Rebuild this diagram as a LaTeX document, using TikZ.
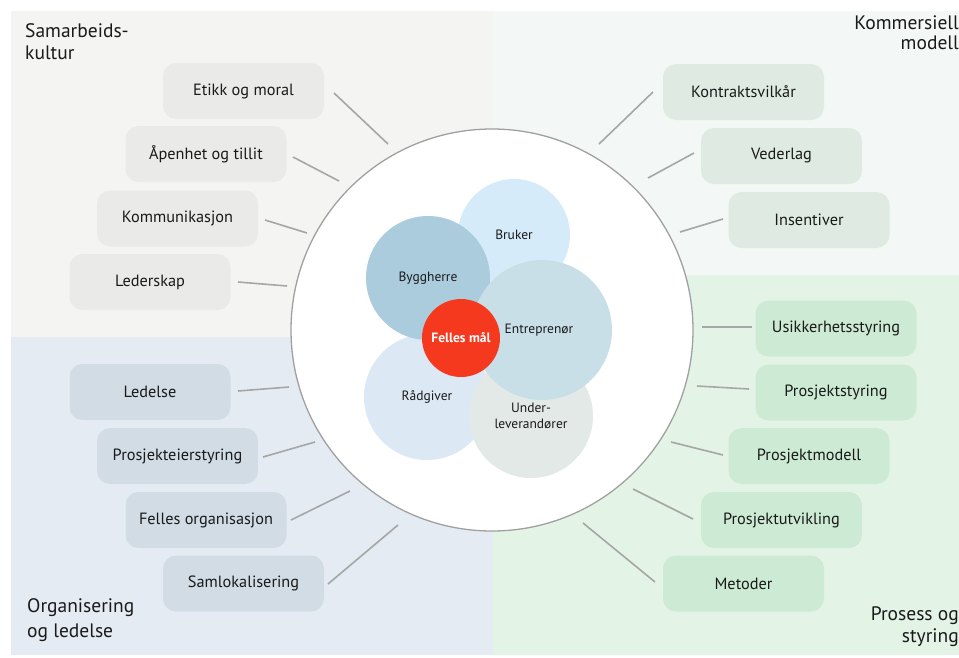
\documentclass[tikz,border=0pt]{standalone}
\usepackage{fontspec}
\setmainfont{PT Sans}
\definecolor{bgTL}{HTML}{F4F4F2}
\definecolor{bgTR}{HTML}{F3F7F5}
\definecolor{bgBL}{HTML}{E5EBF2}
\definecolor{bgBR}{HTML}{E3F4E7}
\definecolor{boxTL}{HTML}{EAEAE8}
\definecolor{boxTR}{HTML}{DFEBE2}
\definecolor{boxBL}{HTML}{D1DCE5}
\definecolor{boxBR}{HTML}{CDEBD4}
\definecolor{cBruker}{HTML}{D5EBFA}
\definecolor{cBygg}{HTML}{ABCCDC}
\definecolor{cEntr}{HTML}{C9DFE8}
\definecolor{cRaad}{HTML}{DCE9F5}
\definecolor{cUnder}{HTML}{E2E9E7}
\definecolor{cRed}{HTML}{F5391F}
\definecolor{linec}{HTML}{A6A6A6}
\definecolor{circc}{HTML}{A0A0A0}
\definecolor{txt}{HTML}{1A1A1A}
\begin{document}
\begin{tikzpicture}[x=1pt,y=-1pt,
  box/.style={rounded corners=13pt, minimum width=161pt, minimum height=56pt, inner sep=0pt, font=\fontsize{16.3}{18}\selectfont, text=txt},
  conn/.style={draw=linec, line width=1.6pt},
  inner/.style={circle, inner sep=0pt, align=center, font=\fontsize{13.5}{16}\selectfont, text=txt},
  corner/.style={inner sep=0pt, text=txt}
]
\useasboundingbox (0,0) rectangle (959,657);
\fill[white] (0,0) rectangle (959,657);
\fill[bgTL] (11,11) rectangle (493,337);
\fill[bgTR] (493,11) rectangle (959,275);
\fill[bgBL] (11,337) rectangle (493,655);
\fill[bgBR] (493,275) rectangle (959,655);

% corner labels
\node[corner, anchor=north west, align=left, font=\fontsize{19.5}{22}\selectfont] (lTL) at (25,23) {Samarbeids-\\kultur};
\node[corner, anchor=north east, align=right, font=\fontsize{19.5}{20}\selectfont] (lTR) at (959,15) {Kommersiell\\modell};
\node[corner, anchor=south west, align=left, font=\fontsize{19.5}{25}\selectfont] (lBL) at (27,642) {Organisering\\og ledelse};
\node[corner, anchor=south east, align=right, font=\fontsize{19.5}{22}\selectfont] (lBR) at (959,647) {Prosess og\\styring};

% main circle
\node[circle, draw=circc, line width=1.3pt, fill=white, minimum size=402pt, inner sep=0pt] (main) at (492,330) {};

% inner circles
\node[inner, fill=cBruker, minimum size=112pt] (bruker) at (514,235) {Bruker};
\node[inner, fill=cRaad, minimum size=126pt] (raad) at (427,397) {Rådgiver};
\node[inner, fill=cBygg, minimum size=124pt] (bygg) at (428,278) {Byggherre};
\node[inner, fill=cUnder, minimum size=124pt] (under) at (531,416) {Under-\\leverandører};
\node[inner, fill=cEntr, minimum size=140pt] (entr) at (542,330) {\hspace*{-6pt}Entreprenør};
\node[inner, fill=cRed, minimum size=78pt, text=white, font=\fontsize{13.5}{15}\bfseries\selectfont] (felles) at (461,338) {Felles mål};

% top-left boxes
\node[box, fill=boxTL] (etikk) at (243.5,91) {Etikk og moral};
\node[box, fill=boxTL] (aapen) at (206,154) {Åpenhet og tillit};
\node[box, fill=boxTL] (komm) at (177.5,218.5) {Kommunikasjon};
\node[box, fill=boxTL] (leder) at (150,282) {Lederskap};
% top-right boxes
\node[box, fill=boxTR] (kontr) at (743.5,92) {Kontraktsvilkår};
\node[box, fill=boxTR] (veder) at (781.5,156) {Vederlag};
\node[box, fill=boxTR] (insent) at (809,220) {Insentiver};
% bottom-right boxes
\node[box, fill=boxBR] (usikk) at (836,328.5) {Usikkerhetsstyring};
\node[box, fill=boxBR] (pstyr) at (836,392.5) {Prosjektstyring};
\node[box, fill=boxBR] (pmod) at (809,456) {Prosjektmodell};
\node[box, fill=boxBR] (putv) at (781.5,520) {Prosjektutvikling};
\node[box, fill=boxBR] (metod) at (743.5,583.5) {Metoder};
% bottom-left boxes
\node[box, fill=boxBL] (ledel) at (150,392) {Ledelse};
\node[box, fill=boxBL] (peier) at (177.5,456) {Prosjekteierstyring};
\node[box, fill=boxBL] (forg) at (206,520) {Felles organisasjon};
\node[box, fill=boxBL] (samlok) at (243.5,583.5) {Samlokalisering};

% connector ends
\coordinate (a1) at (334,93);  \coordinate (b1) at (388,144);
\coordinate (a2) at (293,157); \coordinate (b2) at (339,181);
\coordinate (a3) at (265,220); \coordinate (b3) at (307,233);
\coordinate (a4) at (238,282); \coordinate (b4) at (287,286);
\coordinate (a5) at (653,92);  \coordinate (b5) at (599,144);
\coordinate (a6) at (694,153); \coordinate (b6) at (648,178);
\coordinate (a7) at (723,219); \coordinate (b7) at (680,232);
\coordinate (a8) at (752,327); \coordinate (b8) at (702,327);
\coordinate (a9) at (749,389); \coordinate (b9) at (697,386);
\coordinate (a10) at (723,455); \coordinate (b10) at (671,442);
\coordinate (a11) at (693,519); \coordinate (b11) at (633,489);
\coordinate (a12) at (655,582); \coordinate (b12) at (583,523);
\coordinate (a13) at (238,391); \coordinate (b13) at (289,387);
\coordinate (a14) at (263,457); \coordinate (b14) at (315,442);
\coordinate (a15) at (291,520); \coordinate (b15) at (350,491);
\coordinate (a16) at (328,584); \coordinate (b16) at (398,525);
\foreach \i in {1,...,16} { \draw[conn] (a\i) -- (b\i); }
\end{tikzpicture}
\end{document}
